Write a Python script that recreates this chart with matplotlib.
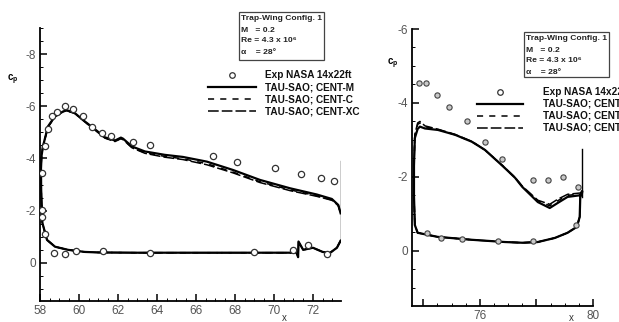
import matplotlib
matplotlib.use("Agg")
import matplotlib.pyplot as plt
from matplotlib.lines import Line2D
from matplotlib.ticker import MultipleLocator, FixedLocator, FixedFormatter

plt.rcParams['font.family'] = ['Liberation Sans', 'DejaVu Sans']

W, H = 619, 322

# ---- left panel (main element) ----
xl = [73.42, 73.23, 72.87, 72.5, 72.0, 71.5, 71.26, 71.24, 71.15, 71.0, 69.0, 66.0, 63.0,
      61.0, 60.3, 59.44, 58.77, 58.36, 58.12, 58.06, 58.05, 58.08, 58.15, 58.41, 58.77,
      59.18, 59.38, 59.8, 60.3, 60.82, 61.33, 61.85, 62.15, 62.26, 62.72, 63.38, 64.4,
      65.33, 66.56, 67.9, 69.28, 70.82, 72.2, 72.97, 73.3, 73.42]
cpl_M = [-0.85, -0.58, -0.38, -0.42, -0.58, -0.5, -0.82, -0.22, -0.4, -0.39, -0.39, -0.39, -0.39,
         -0.4, -0.42, -0.5, -0.62, -0.88, -1.54, -2.8, -3.6, -4.1, -4.46, -5.23, -5.62,
         -5.8, -5.85, -5.73, -5.42, -5.12, -4.81, -4.69, -4.8, -4.76, -4.46, -4.27, -4.14,
         -4.06, -3.88, -3.56, -3.18, -2.86, -2.62, -2.45, -2.22, -1.9]
cpl_C = [-0.85, -0.58, -0.38, -0.42, -0.58, -0.5, -0.8, -0.24, -0.4, -0.39, -0.39, -0.39, -0.39,
         -0.4, -0.42, -0.5, -0.62, -0.88, -1.54, -2.8, -3.6, -4.1, -4.46, -5.2, -5.6,
         -5.78, -5.83, -5.72, -5.41, -5.1, -4.79, -4.66, -4.77, -4.73, -4.42, -4.22, -4.08,
         -3.99, -3.8, -3.48, -3.11, -2.8, -2.57, -2.41, -2.2, -1.9]
cpl_XC = [-0.85, -0.58, -0.38, -0.42, -0.58, -0.5, -0.8, -0.24, -0.4, -0.39, -0.39, -0.39, -0.39,
          -0.4, -0.42, -0.5, -0.62, -0.88, -1.54, -2.8, -3.6, -4.1, -4.46, -5.21, -5.61,
          -5.79, -5.84, -5.72, -5.4, -5.09, -4.78, -4.65, -4.76, -4.72, -4.41, -4.2, -4.05,
          -3.96, -3.76, -3.45, -3.08, -2.77, -2.55, -2.4, -2.2, -1.9]
tel_x = [73.42, 73.42]
tel_cp = [-3.9, -0.85]

expl_x = [58.1, 58.1, 58.1, 58.26, 58.41, 58.62, 58.87, 59.28, 59.69, 60.2, 60.68, 61.18,
          61.64, 62.77, 63.64, 66.87, 68.1, 70.05, 71.4, 72.4, 73.08,
          58.26, 58.72, 59.28, 59.85, 61.23, 63.64, 68.97, 70.97, 71.74, 72.7]
expl_cp = [-1.77, -2.04, -3.46, -4.46, -5.12, -5.62, -5.77, -6.0, -5.88, -5.62, -5.19, -4.96,
           -4.85, -4.62, -4.5, -4.08, -3.85, -3.62, -3.42, -3.27, -3.15,
           -1.12, -0.38, -0.35, -0.46, -0.46, -0.38, -0.42, -0.48, -0.67, -0.35]

# ---- right panel (flap) ----
xr = [79.6, 79.55, 79.53, 79.43, 79.1, 78.65, 78.05, 77.5, 76.88, 75.72, 74.5, 73.8, 73.7,
      73.67, 73.67, 73.7, 73.8, 73.88, 74.06, 74.52, 75.12, 75.72, 76.18, 76.8, 77.24,
      77.5, 78.05, 78.47, 78.76, 79.1, 79.6, 79.62]
cpr_M = [-1.6, -1.46, -0.92, -0.65, -0.49, -0.35, -0.24, -0.22, -0.24, -0.3, -0.38, -0.49, -0.7,
         -1.5, -2.3, -3.05, -3.3, -3.36, -3.31, -3.27, -3.14, -2.95, -2.73, -2.3, -1.98,
         -1.73, -1.32, -1.16, -1.3, -1.46, -1.51, -1.6]
cpr_C = [-1.6, -1.46, -0.92, -0.65, -0.49, -0.35, -0.24, -0.22, -0.24, -0.3, -0.38, -0.49, -0.7,
         -1.5, -2.3, -3.1, -3.42, -3.46, -3.36, -3.28, -3.14, -2.95, -2.73, -2.3, -1.98,
         -1.74, -1.35, -1.22, -1.36, -1.5, -1.55, -1.6]
cpr_XC = [-1.6, -1.46, -0.92, -0.65, -0.49, -0.35, -0.24, -0.22, -0.24, -0.3, -0.38, -0.49, -0.7,
          -1.5, -2.3, -3.15, -3.46, -3.5, -3.38, -3.29, -3.15, -2.96, -2.73, -2.31, -1.99,
          -1.75, -1.37, -1.26, -1.4, -1.53, -1.57, -1.6]
ter_x = [79.62, 79.62]
ter_cp = [-2.75, -1.45]

expr_x = [73.84, 74.09, 74.48, 74.9, 75.54, 76.18, 76.78, 77.87, 78.4, 78.93, 79.46, 79.4,
          74.13, 74.62, 75.36, 76.64, 77.87]
expr_cp = [-4.54, -4.54, -4.22, -3.89, -3.51, -2.95, -2.49, -1.93, -1.93, -2.0, -1.73, -0.7,
           -0.49, -0.35, -0.32, -0.27, -0.27]

legend_labels = ["Exp NASA 14x22ft", "TAU-SAO; CENT-M", "TAU-SAO; CENT-C", "TAU-SAO; CENT-XC"]
info_lines = ["Trap-Wing Config. 1", "M   = 0.2", "Re = 4.3 x 10\u2076", "\u03b1    = 28\u00b0"]


def px(x, y):
    return x / W, 1 - y / H


fig = plt.figure(figsize=(W / 100, H / 100), dpi=100)
axL = fig.add_axes([40 / W, 1 - 301 / H, 301 / W, 273 / H])
axR = fig.add_axes([412 / W, 1 - 306 / H, 181 / W, 277 / H])

styles = [dict(color='black', lw=1.6),
          dict(color='black', lw=1.1, dashes=(4, 4)),
          dict(color='black', lw=1.1, dashes=(7, 2))]

for cp, st in zip([cpl_M, cpl_C, cpl_XC], styles):
    axL.plot(xl, cp, **st)
axL.plot(tel_x, tel_cp, color='black', lw=1.0)
axL.plot(expl_x, expl_cp, 'o', ms=4.5, mfc='white', mec='#333333', mew=0.9, zorder=5)

for cp, st in zip([cpr_M, cpr_C, cpr_XC], styles):
    axR.plot(xr, cp, **st)
axR.plot(ter_x, ter_cp, color='black', lw=1.0)
axR.plot(expr_x, expr_cp, 'o', ms=3.8, mfc='#c8c8c8', mec='#444444', mew=0.8, zorder=5)

axL.set_xlim(58, 73.44)
axL.set_ylim(1.46, -9.0)
axL.xaxis.set_major_locator(MultipleLocator(2))
axL.yaxis.set_major_locator(MultipleLocator(2))

axR.set_xlim(73.6, 80)
axR.set_ylim(1.49, -6.0)
axR.xaxis.set_major_locator(FixedLocator([74, 76, 78, 80]))
axR.yaxis.set_major_locator(MultipleLocator(2))

for ax in (axL, axR):
    ax.xaxis.set_minor_locator(MultipleLocator(0.5))
    ax.yaxis.set_minor_locator(MultipleLocator(0.5))
    for s in ('top', 'right'):
        ax.spines[s].set_visible(False)
    for s in ('left', 'bottom'):
        ax.spines[s].set_linewidth(1.3)
    ax.tick_params(which='major', direction='in', length=5, width=1.1,
                   labelsize=8.5, labelcolor='#555555', pad=3)
    ax.tick_params(which='minor', direction='in', length=2.5, width=0.7)
    ax.yaxis.set_major_formatter(matplotlib.ticker.FuncFormatter(lambda v, p: '%d' % v))

axR.xaxis.set_major_formatter(FixedFormatter(['', '76', '', '80']))

# axis titles
fig.text(*px(13, 80), 'c$_\\mathregular{p}$', fontsize=7, fontweight='bold', ha='center', va='center')
fig.text(*px(393, 64), 'c$_\\mathregular{p}$', fontsize=7, fontweight='bold', ha='center', va='center')
fig.text(*px(284, 318), 'x', fontsize=7, ha='center', va='center', color='#333333')
fig.text(*px(571, 318), 'x', fontsize=7, ha='center', va='center', color='#333333')


def info_box(x0, y0, x1, y1):
    fig.add_artist(plt.Rectangle(px(x0, y1), (x1 - x0) / W, (y1 - y0) / H,
                                 transform=fig.transFigure, fill=False, ec='#444444', lw=0.9))
    for i, t in enumerate(info_lines):
        fig.text(*px(x0 + 2, y0 + 7 + 11 * i), t, fontsize=6.1, fontweight='bold',
                 ha='left', va='center', color='#222222')


def legend_block(lx0, lx1, tx, y0):
    fig.add_artist(Line2D([px((lx0 + lx1) / 2, y0)[0]], [px(0, y0)[1]], marker='o', ms=4,
                          mfc='white', mec='#333333', mew=0.9, ls='none',
                          transform=fig.transFigure))
    for i, st in enumerate(styles):
        yy = y0 + 12 * (i + 1)
        fig.add_artist(Line2D([lx0 / W, lx1 / W], [px(0, yy)[1]] * 2,
                              transform=fig.transFigure, **st))
    for i, t in enumerate(legend_labels):
        fig.text(*px(tx, y0 + 12 * i), t, fontsize=7.2, fontweight='bold',
                 ha='left', va='center', color='#111111')


info_box(239, 12, 324, 60)
legend_block(208, 256, 265, 75)
info_box(524, 32, 609, 77)
legend_block(477, 523, 543, 92)

fig.savefig('out.png', dpi=100)
